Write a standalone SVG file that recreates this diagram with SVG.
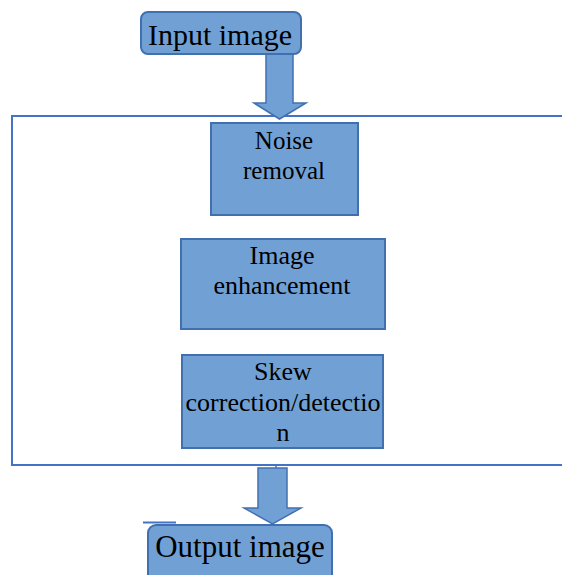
<svg xmlns="http://www.w3.org/2000/svg" width="562" height="575" viewBox="0 0 562 575">
<style>
.box{fill:#71A0D5;stroke:#4070B0;stroke-width:2}
.arrow{fill:#71A0D5;stroke:#4070B0;stroke-width:1.5;stroke-linejoin:miter}
.t{font-family:"Liberation Serif","Times New Roman",serif;fill:#000;text-anchor:middle}
.frame{fill:none;stroke:#4472C4;stroke-width:2}
</style>
<rect width="562" height="575" fill="#fff"/>
<g id="frame">
<rect class="frame" x="12" y="116" width="600" height="349"/>
</g>
<g id="connectors">
<path class="arrow" d="M266,54 L293,54 L293,103 L306,103 L279.5,119 L254,103 L266,103 Z"/>
<path class="arrow" d="M258,468 L287,468 L287,508 L301,508 L272.5,524 L244,508 L258,508 Z"/>
<line x1="276" y1="465" x2="276" y2="468" stroke="#4472C4" stroke-width="1.5"/>
<line x1="143" y1="522.5" x2="176" y2="522.5" stroke="#4472C4" stroke-width="2"/>
</g>
<g id="input">
<rect class="box" x="141" y="12" width="160" height="42" rx="7"/>
<text class="t" x="220" y="45" font-size="30">Input image</text>
</g>
<g id="noise">
<rect class="box" x="211" y="123" width="147" height="92"/>
<text class="t" x="284" y="149" font-size="25">Noise</text>
<text class="t" x="284" y="179" font-size="25">removal</text>
</g>
<g id="enhance">
<rect class="box" x="181" y="239" width="204" height="90"/>
<text class="t" x="282" y="264" font-size="26">Image</text>
<text class="t" x="282" y="294" font-size="26">enhancement</text>
</g>
<g id="skew">
<rect class="box" x="182" y="355" width="201" height="93"/>
<text class="t" x="283" y="380" font-size="26">Skew</text>
<text class="t" x="283" y="411" font-size="26">correction/detectio</text>
<text class="t" x="283" y="441" font-size="26">n</text>
</g>
<g id="output">
<rect class="box" x="148" y="525" width="184" height="62" rx="8"/>
<text class="t" x="240" y="557" font-size="31">Output image</text>
</g>
</svg>
